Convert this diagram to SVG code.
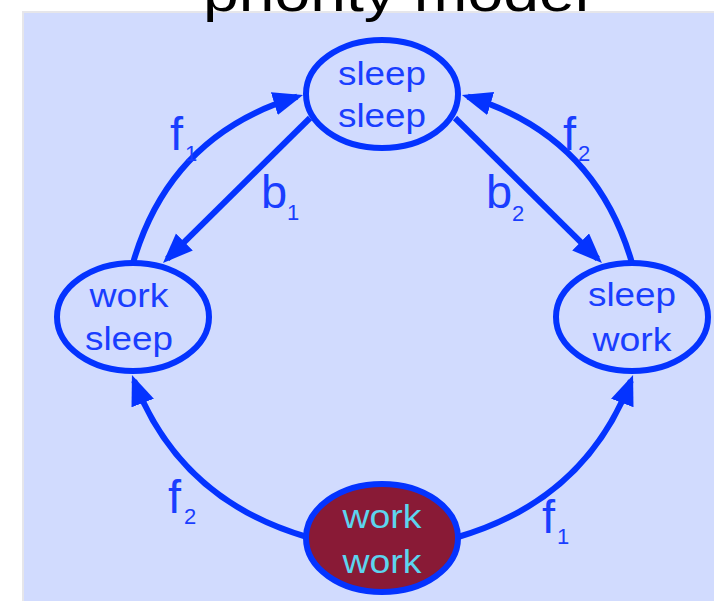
<svg xmlns="http://www.w3.org/2000/svg" width="714" height="601" viewBox="0 0 714 601">
<defs>
<style>
.bg{fill:#D1DBFE;stroke:#E6E6EA;stroke-width:2}
.node{fill:none;stroke:#0433FF;stroke-width:6}
.hot{fill:#891A36;stroke:#0433FF;stroke-width:6}
.nt{font-family:"Liberation Sans",Arial,sans-serif;font-size:34px;fill:#1A3EFF;text-anchor:middle}
.ht{font-family:"Liberation Sans",Arial,sans-serif;font-size:34px;fill:#5CD4EE;text-anchor:middle}
.edge{fill:none;stroke:#0433FF;stroke-width:6}
.lb{font-family:"Liberation Sans",Arial,sans-serif;font-size:47px;fill:#1A3EFF}
.sb{font-family:"Liberation Sans",Arial,sans-serif;font-size:22px;fill:#1A3EFF}
.title{font-family:"Liberation Sans",Arial,sans-serif;font-size:54px;fill:#000}
</style>
<marker id="ah" markerUnits="userSpaceOnUse" markerWidth="32" markerHeight="26" refX="24" refY="12" orient="auto">
<path d="M0,0 L30,12 L0,24 z" fill="#0433FF"/>
</marker>
</defs>
<rect class="bg" x="23" y="12" width="700" height="600"/>
<text class="title" x="203" y="11" textLength="386" lengthAdjust="spacingAndGlyphs">priority model</text>
<g id="connectors">
<path class="edge" d="M133,263 Q170,135 297.3,96.7" marker-end="url(#ah)"/>
<path class="edge" d="M310,118 L167.3,258.8" marker-end="url(#ah)"/>
<path class="edge" d="M632,263 Q595,135 467.7,96.7" marker-end="url(#ah)"/>
<path class="edge" d="M455,118 L597.7,258.8" marker-end="url(#ah)"/>
<path class="edge" d="M307,537 Q180,500 134.1,380.6" marker-end="url(#ah)"/>
<path class="edge" d="M458,537 Q585,500 630.9,380.6" marker-end="url(#ah)"/>
<text class="lb" x="170" y="150">f</text><text class="sb" x="185" y="161">1</text>
<text class="lb" x="261" y="208">b</text><text class="sb" x="287" y="220">1</text>
<text class="lb" x="563" y="150">f</text><text class="sb" x="578" y="161">2</text>
<text class="lb" x="486" y="208">b</text><text class="sb" x="512" y="221">2</text>
<text class="lb" x="168" y="513">f</text><text class="sb" x="184" y="524">2</text>
<text class="lb" x="542" y="533">f</text><text class="sb" x="557" y="544">1</text>
</g>
<g id="n-sleep-sleep">
<ellipse class="node" cx="382" cy="94" rx="76" ry="54"/>
<text class="nt" x="382" y="85" textLength="88" lengthAdjust="spacingAndGlyphs">sleep</text>
<text class="nt" x="382" y="127" textLength="88" lengthAdjust="spacingAndGlyphs">sleep</text>
</g>
<g id="n-work-sleep">
<ellipse class="node" cx="133" cy="317" rx="76" ry="54"/>
<text class="nt" x="129" y="307" textLength="79" lengthAdjust="spacingAndGlyphs">work</text>
<text class="nt" x="129" y="350" textLength="88" lengthAdjust="spacingAndGlyphs">sleep</text>
</g>
<g id="n-sleep-work">
<ellipse class="node" cx="632" cy="317" rx="76" ry="54"/>
<text class="nt" x="632" y="306" textLength="88" lengthAdjust="spacingAndGlyphs">sleep</text>
<text class="nt" x="632" y="351" textLength="79" lengthAdjust="spacingAndGlyphs">work</text>
</g>
<g id="n-work-work">
<ellipse class="hot" cx="382" cy="538" rx="76" ry="54"/>
<text class="ht" x="382" y="528" textLength="79" lengthAdjust="spacingAndGlyphs">work</text>
<text class="ht" x="382" y="573" textLength="79" lengthAdjust="spacingAndGlyphs">work</text>
</g>
</svg>
